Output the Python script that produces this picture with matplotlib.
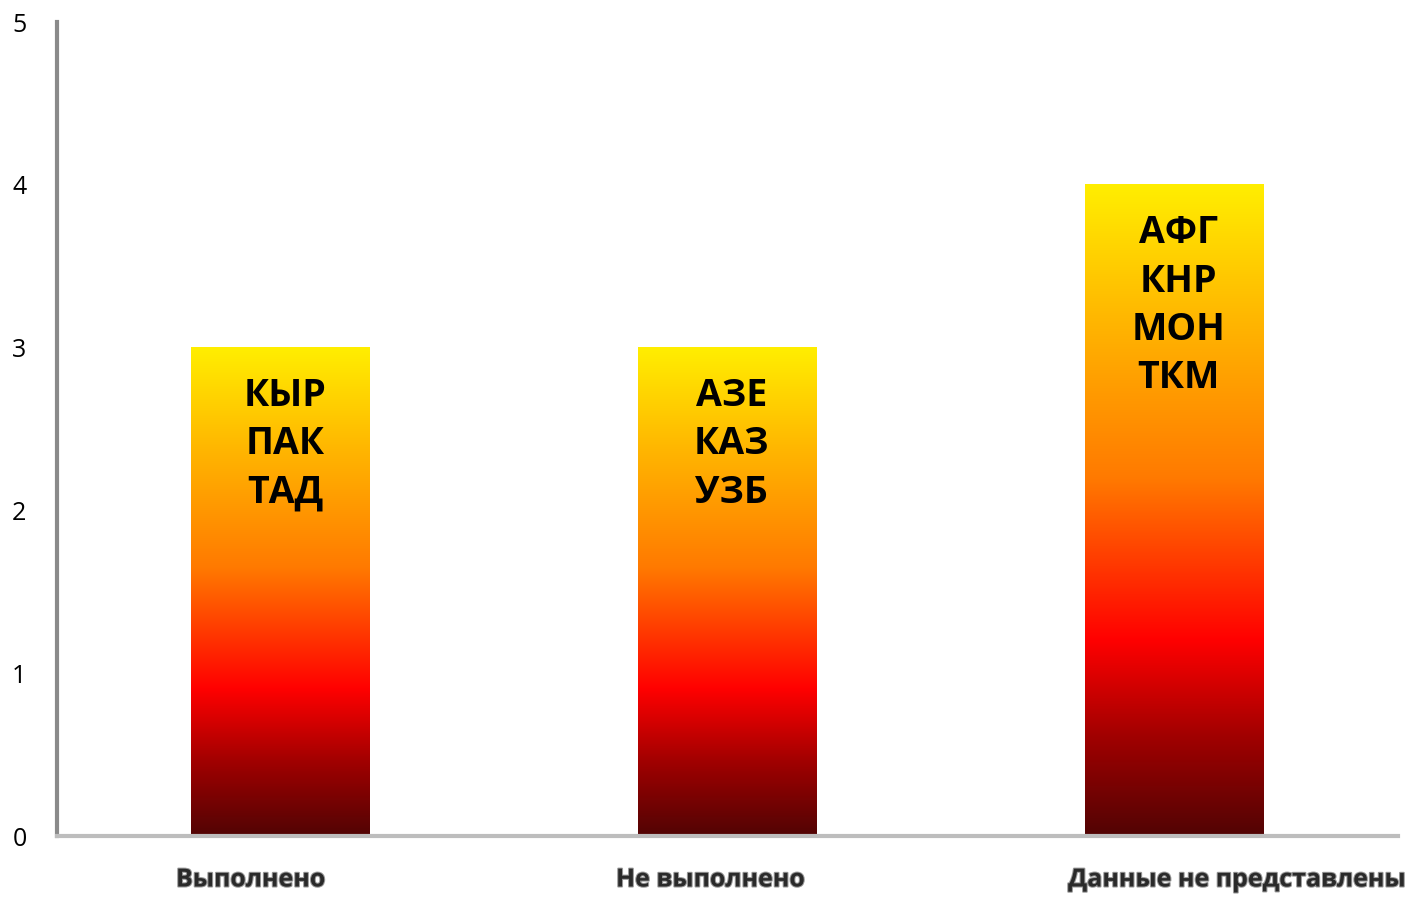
import matplotlib.pyplot as plt
import matplotlib.patheffects as pe
import numpy as np
from matplotlib.colors import LinearSegmentedColormap

plt.rcParams['font.family'] = ['Open Sans', 'DejaVu Sans']

categories = ['Выполнено', 'Не выполнено', 'Данные не представлены']
counts = [3, 3, 4]
countries = [['КЫР', 'ПАК', 'ТАД'],
             ['АЗЕ', 'КАЗ', 'УЗБ'],
             ['АФГ', 'КНР', 'МОН', 'ТКМ']]
yticks = [0, 1, 2, 3, 4, 5]

# label shifts (category labels are not quite centred under the bars)
label_shift = [-0.066, -0.037, 0.142]

fire = LinearSegmentedColormap.from_list(
    'fire', [(0.0, '#520404'), (0.15, '#a00000'), (0.3, '#ff0000'),
             (0.55, '#ff7a00'), (0.8, '#ffb800'), (1.0, '#ffee00')])

fig = plt.figure(figsize=(14.16, 8.98), dpi=100)
ax = fig.add_axes([0.0403, 0.069, 0.9467, 0.9065])

x = np.arange(len(categories))
bars = ax.bar(x, counts, width=0.4, color='none', edgecolor='none')

grad = np.linspace(0, 1, 256).reshape(-1, 1)
for b in bars:
    x0, w, h = b.get_x(), b.get_width(), b.get_height()
    ax.imshow(grad, cmap=fire, origin='lower', aspect='auto',
              extent=[x0, x0 + w, 0, h], zorder=2)

for xi, h, names in zip(x, counts, countries):
    ax.text(xi + 0.01, h - 0.18, '\n'.join(names), ha='center', va='top',
            fontsize=27, fontweight='bold', color='black',
            linespacing=1.36, zorder=3)

for xi, lab, dx in zip(x, categories, label_shift):
    ax.text(xi + dx, -0.27, lab, ha='center', va='center', fontsize=18,
            fontweight='bold', color='#2a2a2a', clip_on=False,
            path_effects=[pe.withStroke(linewidth=1.5, foreground='#999999')])

ax.set_xlim(-0.5, 2.5)
ax.set_ylim(0, 5)
ax.set_yticks(yticks)
ax.set_xticks([])
ax.tick_params(axis='y', length=0, pad=22, labelsize=18)

for side in ['top', 'right']:
    ax.spines[side].set_visible(False)
ax.spines['left'].set_color('#8a8a8a')
ax.spines['left'].set_linewidth(3)
ax.spines['bottom'].set_color('#bdbdbd')
ax.spines['bottom'].set_linewidth(3)
ax.spines['left'].set_zorder(4)
ax.spines['bottom'].set_zorder(4)

fig.savefig('out.png', dpi=100)
